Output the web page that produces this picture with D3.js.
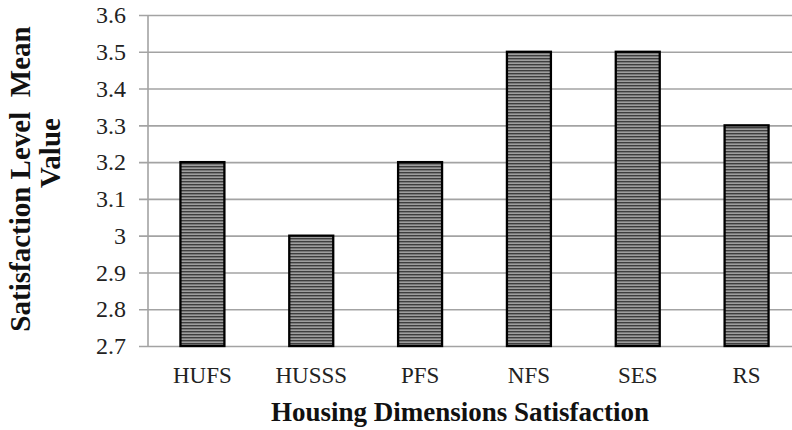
<!DOCTYPE html>
<html>
<head>
<meta charset="utf-8">
<script src="https://cdn.jsdelivr.net/npm/d3@7"></script>
<style>
  html, body { margin: 0; padding: 0; background: #fff; }
  svg { display: block; }
</style>
</head>
<body>
<svg id="chart" width="792" height="430"></svg>
<script>
// Housing satisfaction dimensions and their mean satisfaction level
const categories = ["HUFS", "HUSSS", "PFS", "NFS", "SES", "RS"];
const meanValues = [3.2, 3.0, 3.2, 3.5, 3.5, 3.3];
const yTicks = [2.7, 2.8, 2.9, 3.0, 3.1, 3.2, 3.3, 3.4, 3.5, 3.6];
const yTitleLines = ["Satisfaction Level  Mean", "Value"];
const xTitle = "Housing Dimensions Satisfaction";

const svg = d3.select("#chart");
const W = 792;
const plot = { left: 148, right: 801, top: 15, bottom: 346 };
const serif = "'Liberation Serif', 'DejaVu Serif', serif";

const x = d3.scaleBand()
  .domain(categories)
  .range([plot.left, plot.right])
  .paddingInner(0.596)
  .paddingOuter(0.298);

const y = d3.scaleLinear()
  .domain([2.7, 3.6])
  .range([plot.bottom, plot.top]);

// horizontal stripe fill used for the bars
const defs = svg.append("defs");
const pat = defs.append("pattern")
  .attr("id", "stripes")
  .attr("patternUnits", "userSpaceOnUse")
  .attr("width", 8).attr("height", 3);
pat.append("rect").attr("width", 8).attr("height", 3).attr("fill", "#9e9e9e");
pat.append("rect").attr("y", 1).attr("width", 8).attr("height", 1.4).attr("fill", "#3e3e3e");

// gridlines and tick marks
const yAxis = d3.axisLeft(y)
  .tickValues(yTicks)
  .tickSize(-(W - plot.left))
  .tickPadding(22)
  .tickFormat(d => d3.format("")(+d.toFixed(1)));

const gy = svg.append("g")
  .attr("transform", `translate(${plot.left},0)`)
  .call(yAxis);
gy.select(".domain").remove();
gy.selectAll(".tick line")
  .attr("x1", -9)
  .attr("stroke", "#a3a3a3")
  .attr("stroke-width", 1.6);
gy.selectAll(".tick text")
  .attr("font-family", serif)
  .attr("font-size", 24)
  .attr("fill", "#222");

// vertical axis line
svg.append("line")
  .attr("x1", plot.left).attr("x2", plot.left)
  .attr("y1", plot.top).attr("y2", plot.bottom)
  .attr("stroke", "#a3a3a3").attr("stroke-width", 1.6);

// bars
svg.append("g").selectAll("rect")
  .data(categories.map((c, i) => ({ c, v: meanValues[i] })))
  .join("rect")
  .attr("x", d => x(d.c))
  .attr("y", d => y(d.v))
  .attr("width", x.bandwidth())
  .attr("height", d => y(2.7) - y(d.v))
  .attr("fill", "url(#stripes)")
  .attr("stroke", "#000")
  .attr("stroke-width", 2.3);

// category labels
svg.append("g").selectAll("text")
  .data(categories)
  .join("text")
  .attr("x", d => x(d) + x.bandwidth() / 2)
  .attr("y", 383)
  .attr("text-anchor", "middle")
  .attr("font-family", serif)
  .attr("font-size", 23)
  .attr("fill", "#222")
  .text(d => d);

// axis titles
svg.append("text")
  .attr("x", 460)
  .attr("y", 421)
  .attr("text-anchor", "middle")
  .attr("font-family", "'Liberation Serif', serif")
  .attr("font-weight", "bold")
  .attr("font-size", 27)
  .attr("fill", "#111")
  .text(xTitle);

svg.append("text")
  .attr("transform", "translate(30,179) rotate(-90)")
  .attr("text-anchor", "middle")
  .attr("font-family", "'Liberation Serif', serif")
  .attr("font-weight", "bold")
  .attr("font-size", 29)
  .attr("fill", "#111")
  .style("white-space", "pre")
  .text(yTitleLines[0]);

svg.append("text")
  .attr("transform", "translate(60,153) rotate(-90)")
  .attr("text-anchor", "middle")
  .attr("font-family", "'Liberation Serif', serif")
  .attr("font-weight", "bold")
  .attr("font-size", 29)
  .attr("fill", "#111")
  .text(yTitleLines[1]);
</script>
</body>
</html>
